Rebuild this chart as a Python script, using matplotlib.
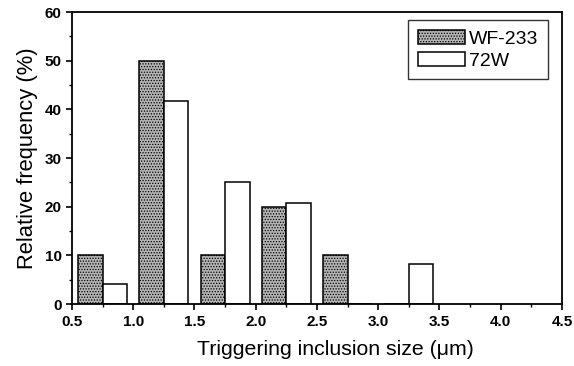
import numpy as np
import matplotlib.pyplot as plt
from matplotlib.ticker import MultipleLocator

plt.rcParams['font.family'] = ['Liberation Sans', 'DejaVu Sans']
plt.rcParams['hatch.color'] = '#808080'
plt.rcParams['hatch.linewidth'] = 0.6

# bin centres (um) and relative frequencies (%)
bin_centers = [0.75, 1.25, 1.75, 2.25, 2.75, 3.25]
wf233 = [10, 50, 10, 20, 10, 0]
w72 = [4.17, 41.67, 25.0, 20.83, 0, 8.33]
series_names = ['WF-233', '72W']

fig = plt.figure(figsize=(5.74, 3.66), dpi=100)
ax = fig.add_axes([0.1254, 0.169, 0.8536, 0.798])

x = np.array(bin_centers)
bw = 0.2
ax.bar(x - bw / 2, wf233, width=bw, color='#b4b4b4', edgecolor='black',
       linewidth=1.1, hatch='......', label=series_names[0])
ax.bar(x + bw / 2, w72, width=bw, color='white', edgecolor='black',
       linewidth=1.1, label=series_names[1])

ax.set_xlim(0.5, 4.5)
ax.set_ylim(0, 60)
ax.xaxis.set_major_locator(MultipleLocator(0.5))
ax.xaxis.set_minor_locator(MultipleLocator(0.25))
ax.yaxis.set_major_locator(MultipleLocator(10))
ax.yaxis.set_minor_locator(MultipleLocator(5))
ax.xaxis.set_major_formatter(plt.FormatStrFormatter('%.1f'))
ax.tick_params(which='major', direction='out', length=4, width=1.2,
               labelsize=11)
ax.tick_params(which='minor', direction='out', length=2.5, width=1)
for lab in ax.get_xticklabels() + ax.get_yticklabels():
    lab.set_fontweight('bold')
for s in ax.spines.values():
    s.set_linewidth(1.3)

ax.set_xlabel('Triggering inclusion size (\u03bcm)', fontsize=15.3)
ax.xaxis.set_label_coords(0.537, -0.123)
ax.set_ylabel('Relative frequency (%)', fontsize=15.8, labelpad=5)

leg = ax.legend(loc='upper right', bbox_to_anchor=(0.971, 0.973),
                borderaxespad=0, fontsize=14, frameon=True, fancybox=False,
                edgecolor='black', handlelength=2.4, handleheight=0.77,
                labelspacing=0.2, handletextpad=0.2, borderpad=0.5)
leg.get_frame().set_linewidth(1.0)

fig.savefig('out.png', dpi=100)
